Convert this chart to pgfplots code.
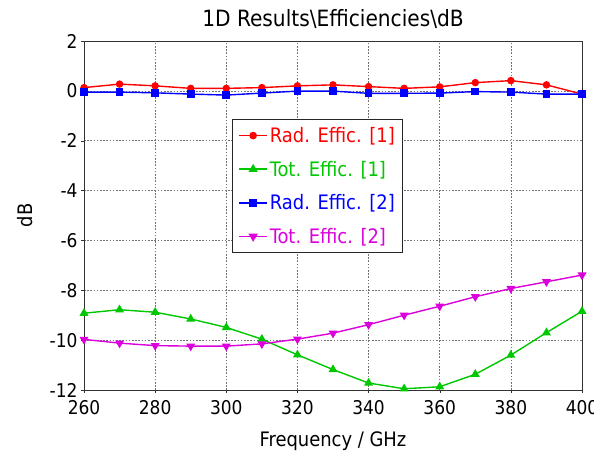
\documentclass[border=0pt]{standalone}
\usepackage{pgfplots}
\pgfplotsset{compat=1.18}
\usepackage{fontspec}
\setmainfont{DejaVu Sans Condensed}
\definecolor{cred}{RGB}{255,0,0}
\definecolor{cgreen}{RGB}{0,200,0}
\definecolor{cblue}{RGB}{0,0,255}
\definecolor{cmag}{RGB}{220,0,220}
\begin{document}
\begin{tikzpicture}[x=1bp,y=1bp]
\path[use as bounding box] (-84,-61) rectangle (510,390);
\begin{axis}[
  at={(0,0)}, anchor=south west,
  scale only axis, width=498bp, height=349bp,
  xmin=260, xmax=400, ymin=-12, ymax=2,
  xtick={260,280,...,400}, ytick={-12,-10,...,2},
  grid=major,
  major grid style={dash pattern=on 1.6bp off 1.6bp, black!55, line width=0.6pt},
  axis line style={black!80, line width=0.9pt},
  tick align=outside, major tick length=3bp,
  xtick pos=bottom, ytick pos=left,
  tick style={black!80},
  /pgf/number format/assume math mode=true,
  ticklabel style={font=\fontsize{19}{21}\selectfont},
  xticklabel style={yshift=-4bp},
  xlabel={Frequency / GHz}, ylabel={dB},
  label style={font=\fontsize{20}{22}\selectfont},
  xlabel style={yshift=-10bp},
  ylabel style={yshift=10bp},
  title={1D Results\textbackslash Efficiencies\textbackslash dB},
  title style={font=\fontsize{22.5}{24}\selectfont, yshift=3bp},
  legend style={at={(0.297,0.777)}, anchor=north west, font=\fontsize{20}{24}\selectfont,
    draw=black!85, line width=0.9pt, inner sep=6bp, row sep=13bp},
  legend cell align=left,
  legend image code/.code={\draw[mark repeat=2,mark phase=2,#1,line width=1.6pt] plot coordinates {(0bp,0bp)(14bp,0bp)(28bp,0bp)};},
  every axis plot/.append style={line width=1.4pt},
]
\addplot[cred, mark=*, mark size=3bp] coordinates {
(260,0.13)(270,0.27)(280,0.2)(290,0.1)(300,0.1)(310,0.13)(320,0.2)(330,0.24)(340,0.17)(350,0.1)(360,0.16)(370,0.33)(380,0.41)(390,0.24)(400,-0.13)};
\addlegendentry{\textcolor{cred}{Rad. Effic. [1]}}
\addplot[cgreen, mark=triangle*, mark size=3.8bp] coordinates {
(260,-8.92)(270,-8.78)(280,-8.88)(290,-9.15)(300,-9.49)(310,-9.96)(320,-10.59)(330,-11.18)(340,-11.72)(350,-11.95)(360,-11.87)(370,-11.37)(380,-10.6)(390,-9.7)(400,-8.84)};
\addlegendentry{\textcolor{cgreen}{Tot. Effic. [1]}}
\addplot[cblue, mark=square*, mark size=3.2bp] coordinates {
(260,-0.05)(270,-0.05)(280,-0.08)(290,-0.13)(300,-0.17)(310,-0.09)(320,-0.01)(330,-0.01)(340,-0.1)(350,-0.1)(360,-0.09)(370,-0.03)(380,-0.05)(390,-0.13)(400,-0.13)};
\addlegendentry{\textcolor{cblue}{Rad. Effic. [2]}}
\addplot[cmag, mark=triangle*, mark size=3.8bp, mark options={rotate=180}] coordinates {
(260,-9.97)(270,-10.12)(280,-10.22)(290,-10.24)(300,-10.24)(310,-10.15)(320,-9.96)(330,-9.72)(340,-9.38)(350,-9.0)(360,-8.64)(370,-8.26)(380,-7.93)(390,-7.66)(400,-7.39)};
\addlegendentry{\textcolor{cmag}{Tot. Effic. [2]}}
\end{axis}
\end{tikzpicture}
\end{document}
